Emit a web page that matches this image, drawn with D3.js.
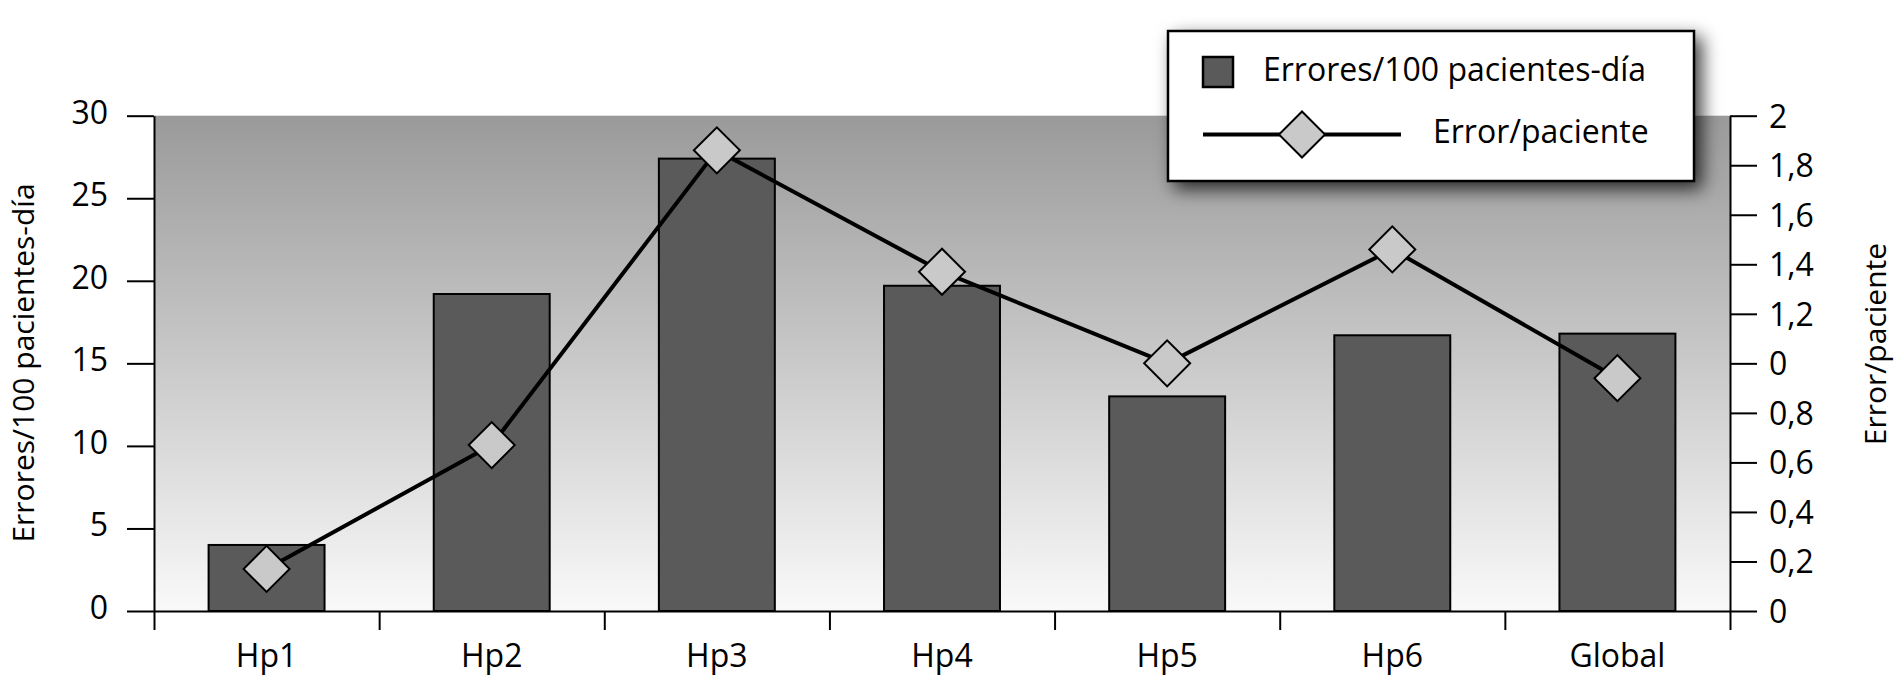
<!DOCTYPE html>
<html>
<head>
<meta charset="utf-8">
<script src="https://cdn.jsdelivr.net/npm/d3@7"></script>
<style>
  html, body { margin: 0; padding: 0; background: #fff; }
  svg { display: block; }
  text { font-family: "Open Sans", "Noto Sans", sans-serif; fill: #000; }
</style>
</head>
<body>
<svg id="chart" width="1898" height="675"></svg>
<script>
// ---- data ----
const categories = ["Hp1", "Hp2", "Hp3", "Hp4", "Hp5", "Hp6", "Global"];
const erroresPor100 = [4.0, 19.2, 27.4, 19.7, 13.0, 16.7, 16.8];
const errorPaciente = [0.17, 0.67, 1.86, 1.37, 1.0, 1.46, 0.94];
const leftTicks = [0, 5, 10, 15, 20, 25, 30];
const leftTickLabels = ["0", "5", "10", "15", "20", "25", "30"];
const rightTicks = [0, 0.2, 0.4, 0.6, 0.8, 1.0, 1.2, 1.4, 1.6, 1.8, 2.0];
const rightTickLabels = ["0", "0,2", "0,4", "0,6", "0,8", "0", "1,2", "1,4", "1,6", "1,8", "2"];
const seriesNames = ["Errores/100 pacientes-día", "Error/paciente"];
const leftTitle = "Errores/100 pacientes-día";
const rightTitle = "Error/paciente";

// ---- layout ----
const svg = d3.select("#chart");
const X0 = 154, X1 = 1730, Y0 = 115.7, Y1 = 611;
const FONT = 32;

const x = d3.scaleBand().domain(categories).range([X0, X1]).paddingInner(0.485).paddingOuter(0.2425);
const xEdge = d3.scaleLinear().domain([0, categories.length]).range([X0, X1]);
const yL = d3.scaleLinear().domain([0, 30]).range([Y1, Y0]);
const yR = d3.scaleLinear().domain([0, 2]).range([Y1, Y0]);

const defs = svg.append("defs");
const grad = defs.append("linearGradient").attr("id", "bg").attr("x1", 0).attr("y1", 0).attr("x2", 0).attr("y2", 1);
grad.append("stop").attr("offset", "0%").attr("stop-color", "#9a9a9a");
grad.append("stop").attr("offset", "100%").attr("stop-color", "#f9f9f9");
const filt = defs.append("filter").attr("id", "shadow").attr("x", "-20%").attr("y", "-40%").attr("width", "140%").attr("height", "180%");
filt.append("feDropShadow").attr("dx", 7).attr("dy", 7).attr("stdDeviation", 9)
  .attr("flood-color", "#000").attr("flood-opacity", 0.75);

// plot background
svg.append("rect").attr("x", X0).attr("y", Y0).attr("width", X1 - X0).attr("height", Y1 - Y0)
  .attr("fill", "url(#bg)");

// bars
svg.append("g").selectAll("rect").data(categories).join("rect")
  .attr("x", d => x(d))
  .attr("y", (d, i) => yL(erroresPor100[i]))
  .attr("width", x.bandwidth())
  .attr("height", (d, i) => yL(0) - yL(erroresPor100[i]))
  .attr("fill", "#5a5a5a").attr("stroke", "#000").attr("stroke-width", 2);

// line
const cx = d => x(d) + x.bandwidth() / 2;
const line = d3.line().x(d => cx(d)).y((d, i) => yR(errorPaciente[i]));
svg.append("path").datum(categories).attr("d", line)
  .attr("fill", "none").attr("stroke", "#000").attr("stroke-width", 4).attr("stroke-linejoin", "round");

const diamond = d3.symbol().type(d3.symbolSquare).size(1058);
svg.append("g").selectAll("path").data(categories).join("path")
  .attr("d", diamond)
  .attr("transform", (d, i) => `translate(${cx(d)},${yR(errorPaciente[i])}) rotate(45)`)
  .attr("fill", "#c9c9c9").attr("stroke", "#000").attr("stroke-width", 2);

// axes
function styleAxis(g) {
  g.selectAll("path.domain").attr("stroke", "#000").attr("stroke-width", 2);
  g.selectAll(".tick line").attr("stroke", "#000").attr("stroke-width", 2);
  g.selectAll("text").attr("font-size", FONT).attr("font-family", '"Open Sans", "Noto Sans", sans-serif').attr("fill", "#000");
}

const gL = svg.append("g").attr("transform", `translate(${X0},0)`)
  .call(d3.axisLeft(yL).tickValues(leftTicks).tickSize(27).tickSizeOuter(0).tickPadding(19)
    .tickFormat((d, i) => leftTickLabels[i]));
styleAxis(gL);
gL.selectAll(".tick text").attr("dy", null).attr("y", 7.5);

const gR = svg.append("g").attr("transform", `translate(${X1},0)`)
  .call(d3.axisRight(yR).tickValues(rightTicks).tickSize(27).tickSizeOuter(0).tickPadding(12)
    .tickFormat((d, i) => rightTickLabels[i]));
styleAxis(gR);
gR.selectAll(".tick text").attr("dy", null).attr("y", 11.5);

const gB = svg.append("g").attr("transform", `translate(0,${Y1})`)
  .call(d3.axisBottom(xEdge).tickValues(d3.range(categories.length + 1)).tickSize(19).tickSizeOuter(0).tickFormat(""));
styleAxis(gB);

const gBL = svg.append("g").attr("transform", `translate(0,${Y1})`)
  .call(d3.axisBottom(x).tickSize(0).tickPadding(0));
gBL.select("path.domain").remove();
styleAxis(gBL);
gBL.selectAll(".tick text").attr("dy", null).attr("y", 56);

// axis titles
svg.append("text").attr("transform", `translate(34,363) rotate(-90)`)
  .attr("text-anchor", "middle").attr("font-size", 30).text(leftTitle);
svg.append("text").attr("transform", `translate(1886,344) rotate(-90)`)
  .attr("text-anchor", "middle").attr("font-size", 30).text(rightTitle);

// legend
const lg = svg.append("g");
lg.append("rect").attr("x", 1168).attr("y", 31).attr("width", 526).attr("height", 150)
  .attr("fill", "#fff").attr("stroke", "#000").attr("stroke-width", 2.5).attr("filter", "url(#shadow)");
lg.append("rect").attr("x", 1203).attr("y", 57).attr("width", 30).attr("height", 30)
  .attr("fill", "#5a5a5a").attr("stroke", "#000").attr("stroke-width", 2.5);
lg.append("text").attr("x", 1263).attr("y", 81).attr("font-size", FONT).text(seriesNames[0]);
lg.append("line").attr("x1", 1203).attr("x2", 1401).attr("y1", 134.5).attr("y2", 134.5)
  .attr("stroke", "#000").attr("stroke-width", 4);
lg.append("path").attr("d", diamond).attr("transform", "translate(1302,134.5) rotate(45)")
  .attr("fill", "#c9c9c9").attr("stroke", "#000").attr("stroke-width", 2);
lg.append("text").attr("x", 1433).attr("y", 143).attr("font-size", FONT).text(seriesNames[1]);
</script>
</body>
</html>
